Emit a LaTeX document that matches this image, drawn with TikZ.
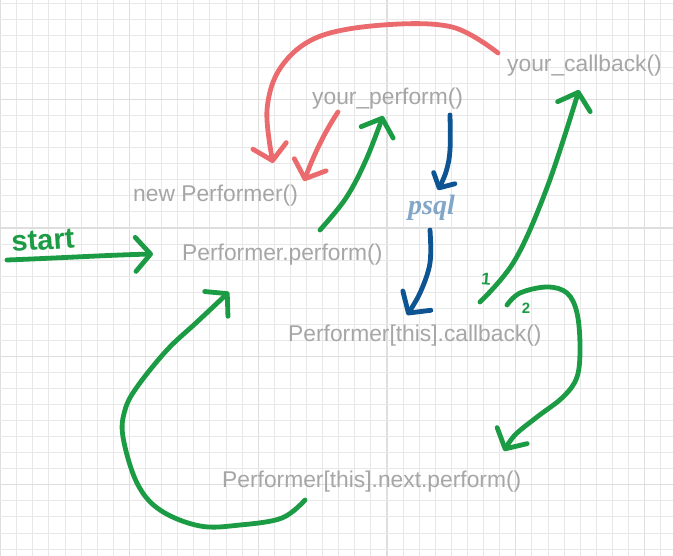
\documentclass[tikz,border=0pt]{standalone}
\usepackage{fontspec}
\setmainfont{Liberation Sans}
\newfontfamily\serifbi{Liberation Serif}
\usetikzlibrary{arrows.meta}
\definecolor{gridminor}{RGB}{232,232,232}
\definecolor{gridmajor}{RGB}{222,222,222}
\definecolor{txtgray}{RGB}{166,166,166}
\definecolor{penred}{RGB}{234,106,110}
\definecolor{pengreen}{RGB}{28,155,69}
\definecolor{penblue}{RGB}{14,84,146}
\definecolor{psqlblue}{RGB}{130,166,200}
\tikzset{
  lbl/.style={anchor=base west, inner sep=0pt, text=txtgray, font=\fontsize{22.8}{24}\selectfont},
  hand/.style={line width=4.8pt, line cap=round, line join=round},
  bigtip/.style={-{Straight Barb[length=15pt,width=34pt,round]}},
  smalltip/.style={-{Straight Barb[length=11pt,width=24pt,round]}},
}
\begin{document}
\begin{tikzpicture}[x=1pt,y=-1pt]
\useasboundingbox (0,0) rectangle (673,556);
\fill[white] (0,0) rectangle (673,556);
% grid
\foreach \i in {0,...,41} {
  \pgfmathsetmacro\xx{0.6+16.1*\i}
  \pgfmathtruncatemacro\m{mod(\i,8)}
  \ifnum\m=0 \draw[gridmajor,line width=1.2pt] (\xx,0) -- (\xx,556);
  \else \draw[gridminor,line width=0.9pt] (\xx,0) -- (\xx,556); \fi
}
\foreach \j in {0,...,34} {
  \pgfmathsetmacro\yy{3.3+16.05*\j}
  \pgfmathtruncatemacro\m{mod(\j,8)}
  \ifnum\m=6 \draw[gridmajor,line width=1.2pt] (0,\yy) -- (673,\yy);
  \else \draw[gridminor,line width=0.9pt] (0,\yy) -- (673,\yy); \fi
}
% texts
\node[lbl] (cb) at (507,72) {your\_callback()};
\node[lbl] (yp) at (312,105) {your\_perform()};
\node[lbl] (np) at (133,202) {new Performer()};
\node[lbl] (pp) at (182,261) {Performer.perform()};
\node[lbl] (pc) at (288,342) {Performer[this].callback()};
\node[lbl] (pn) at (222,487) {Performer[this].next.perform()};
\node[anchor=base west, inner sep=0pt, text=psqlblue, font=\serifbi\bfseries\itshape\fontsize{28}{30}\selectfont] (psql) at (408,215) {psql};
\node[anchor=base west, inner sep=0pt, text=pengreen, rotate=4, font=\bfseries\fontsize{29}{30}\selectfont] (start) at (12,252) {start};
\node[inner sep=0pt, text=pengreen, rotate=-5, font=\bfseries\fontsize{17}{18}\selectfont] (one) at (486,279) {1};
\node[inner sep=0pt, text=pengreen, font=\bfseries\fontsize{15}{16}\selectfont] (two) at (526,308) {2};
% named ends
\coordinate (cbW) at (498,53);
\coordinate (npA) at (273,163);
\coordinate (ypA) at (338,112);
\coordinate (npB) at (304,181);
\coordinate (ppN) at (320,230);
\coordinate (ypB) at (383,116);
\coordinate (pcN) at (480,302);
\coordinate (cbS) at (579,90);
\coordinate (ypC) at (450,115);
\coordinate (psqlN) at (438,190);
\coordinate (psqlS) at (430,230);
\coordinate (pcA) at (407,315);
\coordinate (s0) at (7,260);
\coordinate (ppW) at (153,254);
\coordinate (pnE) at (305,500);
\coordinate (ppS) at (229,292);
\coordinate (pcE) at (507,305);
\coordinate (pnN) at (504,451);
% red arrows
\draw[hand, penred, bigtip] plot[smooth, tension=0.6] coordinates {(cbW) (452,27) (383,25) (318,37) (281,67) (267,110) (npA)};
\draw[hand, penred, bigtip] (ypA) .. controls (322,136) and (312,160) .. (npB);
% green arrows
\draw[hand, pengreen, bigtip] plot[smooth, tension=0.6] coordinates {(ppN) (346,198) (366,160) (ypB)};
\draw[hand, pengreen, bigtip] plot[smooth, tension=0.6] coordinates {(pcN) (515,260) (548,185) (cbS)};
\draw[hand, pengreen, bigtip] (s0) .. controls (60,258) and (110,255) .. (ppW);
\draw[hand, pengreen, bigtip] plot[smooth, tension=0.6] coordinates {(pnE) (282,518) (240,525) (200,526) (160,510) (137,483) (123,437) (125,410) (137,387) (167,350) (197,322) (ppS)};
\draw[hand, pengreen, bigtip] plot[smooth, tension=0.6] coordinates {(pcE) (520,293) (547,287) (567,293) (577,313) (580,347) (577,377) (563,397) (537,417) (515,435) (pnN)};
% blue arrows
\draw[hand, penblue, smalltip] plot[smooth, tension=0.6] coordinates {(ypC) (450,150) (446,172) (psqlN)};
\draw[hand, penblue, bigtip] plot[smooth, tension=0.6] coordinates {(psqlS) (430,263) (420,293) (pcA)};
\end{tikzpicture}
\end{document}
